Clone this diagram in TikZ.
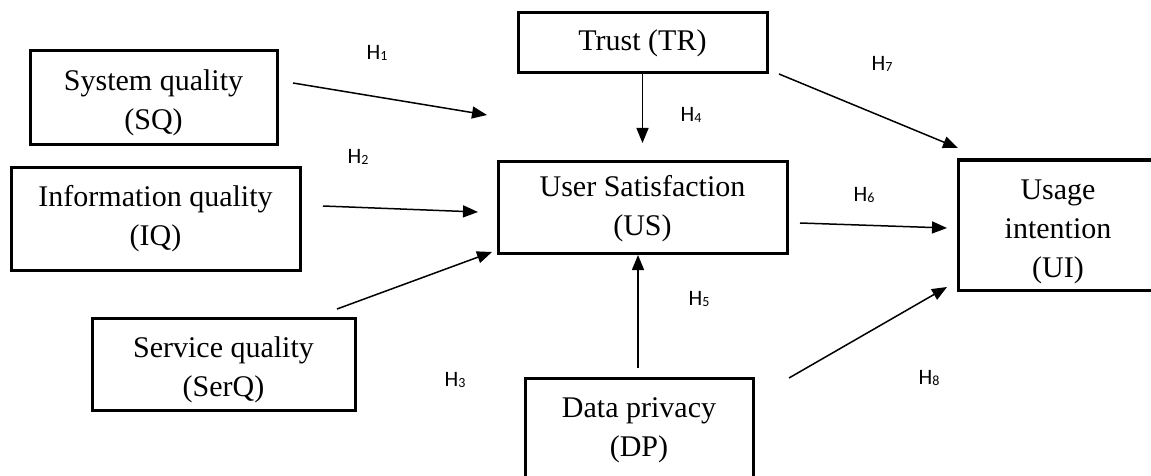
\documentclass[tikz,border=0pt]{standalone}
\usepackage{fontspec}
\setmainfont{Liberation Serif}
\newfontfamily\labfont{Carlito}
\usetikzlibrary{arrows.meta}
\tikzset{
  box/.style={draw, line width=1.5pt, align=center, inner sep=0pt,
    font=\fontsize{15}{19.5}\selectfont},
  link/.style={line width=0.75pt, -{Triangle[length=7.5pt,width=6pt]}},
  hlab/.style={inner sep=0pt, font=\labfont\fontsize{11}{12}\selectfont}
}
\newcommand{\hyp}[1]{H\raisebox{-0.7pt}{\fontsize{7}{7}\selectfont #1}}
\newcommand{\pushdn}[1]{\rule{0pt}{#1}}
\begin{document}
\begin{tikzpicture}[x=0.5pt,y=-0.5pt]
\path[use as bounding box, clip] (0,0) rectangle (1151,476);
% boxes
\node[box, minimum width=123.5pt, minimum height=47pt] (sq) at (153.5,98) {\pushdn{15.2pt}System quality\\(SQ)};
\node[box, minimum width=124.5pt, minimum height=30pt] (tr) at (642.5,43) {Trust (TR)};
\node[box, minimum width=144.5pt, minimum height=51.5pt] (iq) at (155.5,218.5) {Information quality\\(IQ)};
\node[box, minimum width=144.5pt, minimum height=46pt] (us) at (642.5,207) {\pushdn{12.4pt}User Satisfaction\\(US)};
\node[box, minimum width=100pt, minimum height=65pt] (ui) at (1058,225) {\pushdn{16.2pt}Usage\\intention\\(UI)};
\node[box, minimum width=131.5pt, minimum height=46pt] (serq) at (223.5,364) {\pushdn{16.2pt}Service quality\\(SerQ)};
\node[box, minimum width=114pt, minimum height=52pt] (dp) at (639,430) {Data privacy\\(DP)};
% free ends of connectors
\coordinate (h1s) at (293,83);  \coordinate (h1e) at (487,115);
\coordinate (h2s) at (323,206); \coordinate (h2e) at (478,212);
\coordinate (h3s) at (337,309); \coordinate (h3e) at (492,252);
\coordinate (h4e) at (642.5,143);
\coordinate (h5s) at (638,368); \coordinate (h5e) at (638,255);
\coordinate (h6s) at (800,223); \coordinate (h6e) at (947,228);
\coordinate (h7s) at (779,74);  \coordinate (h7e) at (958,148);
\coordinate (h8s) at (789,378); \coordinate (h8e) at (947,287);
% connectors
\draw[link] (h1s) -- (h1e);
\draw[link] (h2s) -- (h2e);
\draw[link] (h3s) -- (h3e);
\draw[link] (tr.south) -- (h4e);
\draw[link] (h5s) -- (h5e);
\draw[link] (h6s) -- (h6e);
\draw[link] (h7s) -- (h7e);
\draw[link] (h8s) -- (h8e);
% labels
\node[hlab] (l1) at (377,53) {\hyp{1}};
\node[hlab] (l2) at (358,157) {\hyp{2}};
\node[hlab] (l3) at (455,380) {\hyp{3}};
\node[hlab] (l4) at (691,115) {\hyp{4}};
\node[hlab] (l5) at (699,299) {\hyp{5}};
\node[hlab] (l6) at (864,195) {\hyp{6}};
\node[hlab] (l7) at (882,64) {\hyp{7}};
\node[hlab] (l8) at (929,378) {\hyp{8}};
\end{tikzpicture}
\end{document}
